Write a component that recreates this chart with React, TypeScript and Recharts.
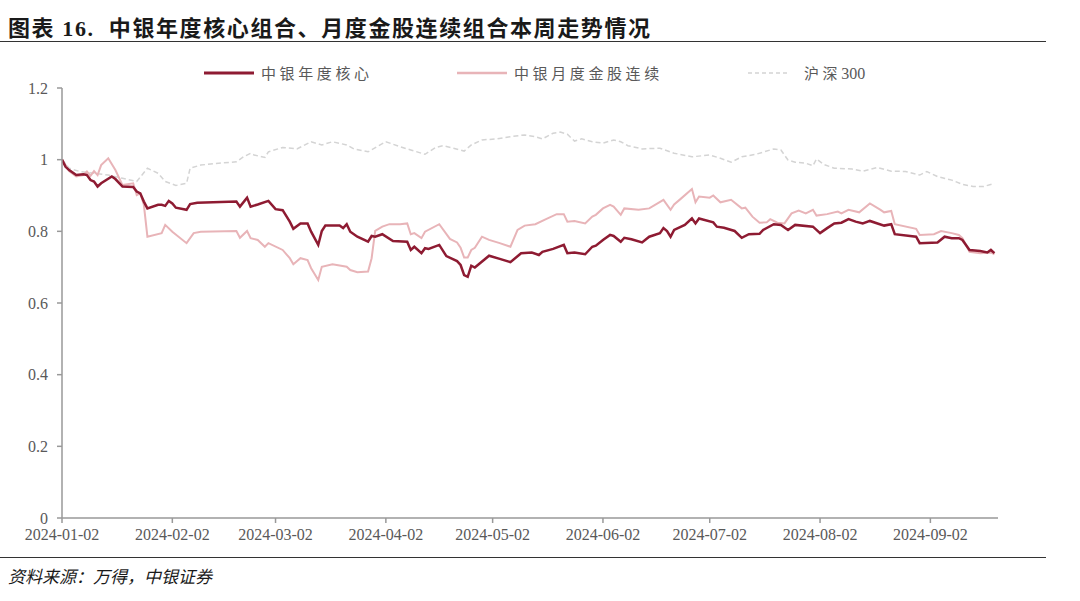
import { Line, LineChart, XAxis, YAxis } from "recharts"

const coreDates = [
  "01-02", "01-03", "01-04", "01-06", "01-08", "01-09", "01-10", "01-11", "01-12", "01-13",
  "01-16", "01-17", "01-19", "01-22", "01-23", "01-24", "01-25", "01-26", "01-29", "01-30",
  "01-31", "02-01", "02-02", "02-03", "02-06", "02-07", "02-09", "02-20", "02-21", "02-23",
  "02-24", "02-26", "02-29", "03-02", "03-04", "03-06", "03-07", "03-09", "03-11", "03-12",
  "03-14", "03-15", "03-16", "03-20", "03-21", "03-22", "03-23", "03-25", "03-28", "03-29",
  "03-30", "04-01", "04-04", "04-08", "04-09", "04-10", "04-12", "04-13", "04-14", "04-17",
  "04-19", "04-22", "04-23", "04-24", "04-25", "04-26", "04-27", "05-01", "05-04", "05-07",
  "05-10", "05-13", "05-15", "05-16", "05-19", "05-22", "05-23", "05-25", "05-28", "05-30",
  "05-31", "06-02", "06-04", "06-05", "06-07", "06-08", "06-10", "06-13", "06-15", "06-18",
  "06-19", "06-20", "06-21", "06-22", "06-25", "06-27", "06-28", "06-29", "07-03", "07-04",
  "07-06", "07-09", "07-11", "07-13", "07-16", "07-17", "07-20", "07-22", "07-24", "07-26",
  "07-31", "08-02", "08-04", "08-06", "08-08", "08-10", "08-12", "08-14", "08-16", "08-20",
  "08-22", "08-23", "08-29", "08-30", "09-04", "09-06", "09-08", "09-10", "09-11", "09-13",
  "09-16", "09-18", "09-19", "09-20",
]
const coreValues = [
  1.0, 0.98, 0.971, 0.957, 0.959, 0.957, 0.943, 0.939, 0.925, 0.934,
  0.953, 0.946, 0.925, 0.924, 0.911, 0.906, 0.883, 0.864, 0.874, 0.874,
  0.871, 0.885, 0.878, 0.866, 0.86, 0.876, 0.88, 0.883, 0.869, 0.894,
  0.869, 0.875, 0.885, 0.862, 0.859, 0.827, 0.807, 0.822, 0.822, 0.799,
  0.762, 0.801, 0.816, 0.816, 0.809, 0.82, 0.799, 0.785, 0.771, 0.787,
  0.785, 0.792, 0.773, 0.771, 0.748, 0.757, 0.739, 0.753, 0.751, 0.762,
  0.731, 0.717, 0.706, 0.678, 0.673, 0.704, 0.699, 0.732, 0.723, 0.714,
  0.739, 0.741, 0.734, 0.743, 0.751, 0.762, 0.739, 0.741, 0.736, 0.757,
  0.76, 0.776, 0.79, 0.787, 0.771, 0.782, 0.778, 0.769, 0.785, 0.795,
  0.809, 0.801, 0.785, 0.804, 0.818, 0.836, 0.822, 0.836, 0.825, 0.813,
  0.81, 0.801, 0.782, 0.792, 0.793, 0.804, 0.82, 0.818, 0.804, 0.818,
  0.813, 0.795, 0.809, 0.822, 0.824, 0.834, 0.827, 0.822, 0.829, 0.816,
  0.82, 0.792, 0.785, 0.767, 0.769, 0.785, 0.781, 0.781, 0.776, 0.748,
  0.745, 0.741, 0.748, 0.739,
]

const monthlyDates = [
  "01-02", "01-03", "01-04", "01-06", "01-08", "01-09", "01-10", "01-11", "01-12", "01-13",
  "01-15", "01-17", "01-19", "01-22", "01-23", "01-24", "01-25", "01-26", "01-30", "01-31",
  "02-02", "02-06", "02-08", "02-10", "02-20", "02-21", "02-23", "02-24", "02-26", "02-28",
  "02-29", "03-04", "03-06", "03-07", "03-09", "03-11", "03-12", "03-14", "03-15", "03-18",
  "03-22", "03-23", "03-25", "03-28", "03-29", "03-30", "04-01", "04-03", "04-06", "04-08",
  "04-09", "04-10", "04-12", "04-13", "04-17", "04-20", "04-22", "04-23", "04-24", "04-25",
  "04-26", "04-27", "04-29", "05-01", "05-04", "05-07", "05-09", "05-11", "05-14", "05-17",
  "05-20", "05-22", "05-23", "05-25", "05-28", "05-30", "05-31", "06-02", "06-04", "06-05",
  "06-07", "06-08", "06-12", "06-15", "06-19", "06-21", "06-22", "06-24", "06-27", "06-28",
  "06-29", "07-02", "07-03", "07-05", "07-08", "07-11", "07-12", "07-14", "07-16", "07-18",
  "07-19", "07-21", "07-23", "07-25", "07-27", "07-29", "07-31", "08-01", "08-04", "08-07",
  "08-08", "08-10", "08-13", "08-16", "08-19", "08-20", "08-22", "08-23", "08-29", "08-30",
  "09-03", "09-05", "09-08", "09-10", "09-11", "09-13", "09-16", "09-19", "09-20",
]
const monthlyValues = [
  1.0, 0.985, 0.968, 0.953, 0.957, 0.967, 0.955, 0.968, 0.957, 0.985,
  1.004, 0.971, 0.929, 0.934, 0.901, 0.906, 0.874, 0.785, 0.795, 0.818,
  0.799, 0.767, 0.795, 0.799, 0.801, 0.782, 0.801, 0.781, 0.776, 0.757,
  0.767, 0.748, 0.725, 0.708, 0.725, 0.72, 0.697, 0.664, 0.701, 0.708,
  0.701, 0.692, 0.686, 0.688, 0.725, 0.801, 0.813, 0.82, 0.82, 0.822,
  0.792, 0.795, 0.781, 0.799, 0.82, 0.779, 0.769, 0.754, 0.727, 0.727,
  0.748, 0.754, 0.785, 0.776, 0.767, 0.757, 0.804, 0.816, 0.82, 0.834,
  0.848, 0.848, 0.827, 0.829, 0.822, 0.841, 0.846, 0.864, 0.874, 0.869,
  0.846, 0.864, 0.86, 0.864, 0.888, 0.86, 0.875, 0.892, 0.918, 0.881,
  0.897, 0.894, 0.9, 0.881, 0.888, 0.864, 0.866, 0.841, 0.824, 0.825,
  0.834, 0.824, 0.822, 0.85, 0.858, 0.85, 0.86, 0.844, 0.848, 0.855,
  0.85, 0.86, 0.853, 0.878, 0.86, 0.853, 0.857, 0.82, 0.807, 0.79,
  0.792, 0.801, 0.795, 0.79, 0.781, 0.743, 0.739, 0.741, 0.736,
]

const csiDates = [
  "01-02", "01-04", "01-07", "01-11", "01-15", "01-19", "01-23", "01-26", "01-29", "01-31",
  "02-03", "02-06", "02-07", "02-10", "02-15", "02-20", "02-22", "02-24", "02-25", "02-28",
  "02-29", "03-04", "03-08", "03-12", "03-15", "03-18", "03-22", "03-24", "03-28", "03-31",
  "04-02", "04-06", "04-09", "04-13", "04-16", "04-18", "04-21", "04-24", "04-26", "04-29",
  "05-03", "05-07", "05-11", "05-14", "05-16", "05-19", "05-21", "05-23", "05-25", "05-27",
  "05-30", "06-02", "06-05", "06-07", "06-09", "06-13", "06-18", "06-22", "06-27", "07-02",
  "07-05", "07-08", "07-11", "07-15", "07-20", "07-22", "07-24", "07-26", "07-29", "07-31",
  "08-01", "08-03", "08-06", "08-11", "08-14", "08-18", "08-22", "08-26", "08-30", "09-01",
  "09-04", "09-08", "09-11", "09-14", "09-17", "09-20",
]
const csiValues = [
  1.0, 0.976, 0.967, 0.962, 0.957, 0.948, 0.939, 0.976, 0.962, 0.939,
  0.928, 0.934, 0.976, 0.985, 0.99, 0.994, 1.008, 1.018, 1.013, 1.006,
  1.022, 1.034, 1.03, 1.05, 1.041, 1.05, 1.041, 1.03, 1.022, 1.039,
  1.05, 1.036, 1.027, 1.015, 1.034, 1.039, 1.032, 1.024, 1.041, 1.055,
  1.058, 1.064, 1.069, 1.064, 1.058, 1.074, 1.077, 1.071, 1.052, 1.058,
  1.05, 1.046, 1.055, 1.05, 1.039, 1.03, 1.032, 1.018, 1.008, 1.013,
  1.004, 0.993, 1.008, 1.015, 1.03, 1.027, 0.999, 0.993, 0.99, 0.983,
  1.002, 0.987, 0.976, 0.974, 0.968, 0.978, 0.968, 0.967, 0.957, 0.967,
  0.953, 0.943, 0.931, 0.925, 0.925, 0.934,
]

const tickLabels = [
  "2024-01-02", "2024-02-02", "2024-03-02", "2024-04-02", "2024-05-02",
  "2024-06-02", "2024-07-02", "2024-08-02", "2024-09-02",
]
const yTicks = [0, 0.2, 0.4, 0.6, 0.8, 1, 1.2]

const seriesNames = ["中银年度核心", "中银月度金股连续", "沪深300"]

const dayOf = (md: string) => {
  const [m, d] = md.split("-").map(Number)
  return (Date.UTC(2024, m - 1, d) - Date.UTC(2024, 0, 2)) / 86400000
}

const build = (dates: string[], values: number[]) =>
  dates.map((d, i) => ({ t: dayOf(d), v: values[i] }))

const coreData = build(coreDates, coreValues)
const monthlyData = build(monthlyDates, monthlyValues)
const csiData = build(csiDates, csiValues)
const xTicks = tickLabels.map((s) => dayOf(s.slice(5)))

const serif = '"Times New Roman", "Liberation Serif", "DejaVu Serif", "Noto Sans CJK SC", serif'
const labelColor = "#595959"
const coreColor = "#8E1B32"
const monthlyColor = "#E8B4B8"
const csiColor = "#D4D4D4"

// legend drawn by hand, positions
function LegendRow() {
  const items = [
    { x: 204, w: 50, tx: 261, color: coreColor, width: 3, dash: undefined as string | undefined },
    { x: 457, w: 50, tx: 514, color: monthlyColor, width: 2.5, dash: undefined },
    { x: 748, w: 40, tx: 804, color: csiColor, width: 1.5, dash: "4 3" },
  ]
  return (
    <>
      {items.map((it, i) => {
        const name = seriesNames[i]
        const cjk = name.replace(/[0-9]+$/, "")
        const tail = name.slice(cjk.length)
        return (
          <div key={name}>
            <svg style={{ position: "absolute", left: it.x, top: 71 }} width={it.w} height={4}>
              <line x1={0} y1={2} x2={it.w} y2={2} stroke={it.color} strokeWidth={it.width} strokeDasharray={it.dash} />
            </svg>
            <span
              style={{
                position: "absolute",
                left: it.tx,
                top: 62,
                fontFamily: serif,
                fontSize: 15,
                color: labelColor,
                whiteSpace: "nowrap",
              }}
            >
              <span style={{ letterSpacing: 3.6 }}>{cjk}</span>
              <span style={{ fontSize: 16 }}>{tail}</span>
            </span>
          </div>
        )
      })}
    </>
  )
}

export default function App() {
  return (
    <div style={{ position: "absolute", left: 0, top: 0, width: 1080, height: 601, background: "#fff" }}>
      <div
        style={{
          position: "absolute",
          left: 8,
          top: 10,
          fontFamily: serif,
          fontWeight: 700,
          fontSize: 22,
          letterSpacing: 1.6,
          color: "#1a1a1a",
          whiteSpace: "nowrap",
        }}
      >
        图表 16.&nbsp; 中银年度核心组合、月度金股连续组合本周走势情况
      </div>
      <div style={{ position: "absolute", left: 0, top: 41, width: 1046, height: 0, borderTop: "1.5px solid #333" }} />

      <LineChart
        width={1080}
        height={601}
        margin={{ top: 88, right: 82, bottom: 43, left: 2 }}
        style={{ position: "absolute", left: 0, top: 0 }}
      >
        <XAxis
          dataKey="t"
          type="number"
          domain={[0, 263]}
          ticks={xTicks}
          tickFormatter={(v: number) => tickLabels[xTicks.indexOf(v)] ?? ""}
          height={40}
          tickSize={5}
          tickMargin={6}
          interval={0}
          stroke="#999"
          strokeWidth={1.5}
          tick={{ fill: labelColor, fontSize: 16, fontFamily: serif }}
          allowDataOverflow
        />
        <YAxis
          type="number"
          domain={[0, 1.2]}
          ticks={yTicks}
          tickFormatter={(v: number) => (v === 0 || v === 1 ? String(v) : v.toFixed(1))}
          width={60}
          tickSize={5}
          tickMargin={9}
          interval={0}
          stroke="#999"
          strokeWidth={1.5}
          tick={{ fill: labelColor, fontSize: 16, fontFamily: serif }}
        />
        <Line
          data={csiData}
          dataKey="v"
          name={seriesNames[2]}
          stroke={csiColor}
          strokeWidth={1.5}
          strokeDasharray="5 3"
          dot={false}
          isAnimationActive={false}
        />
        <Line
          data={monthlyData}
          dataKey="v"
          name={seriesNames[1]}
          stroke={monthlyColor}
          strokeWidth={2}
          dot={false}
          isAnimationActive={false}
        />
        <Line
          data={coreData}
          dataKey="v"
          name={seriesNames[0]}
          stroke={coreColor}
          strokeWidth={2.5}
          dot={false}
          isAnimationActive={false}
        />
      </LineChart>

      <LegendRow />

      <div style={{ position: "absolute", left: 0, top: 557, width: 1046, height: 0, borderTop: "1.5px solid #333" }} />
      <div
        style={{
          position: "absolute",
          left: 8,
          top: 563,
          fontFamily: serif,
          fontStyle: "italic",
          fontSize: 17,
          color: "#1a1a1a",
          whiteSpace: "nowrap",
        }}
      >
        资料来源：万得，中银证券
      </div>
    </div>
  )
}
